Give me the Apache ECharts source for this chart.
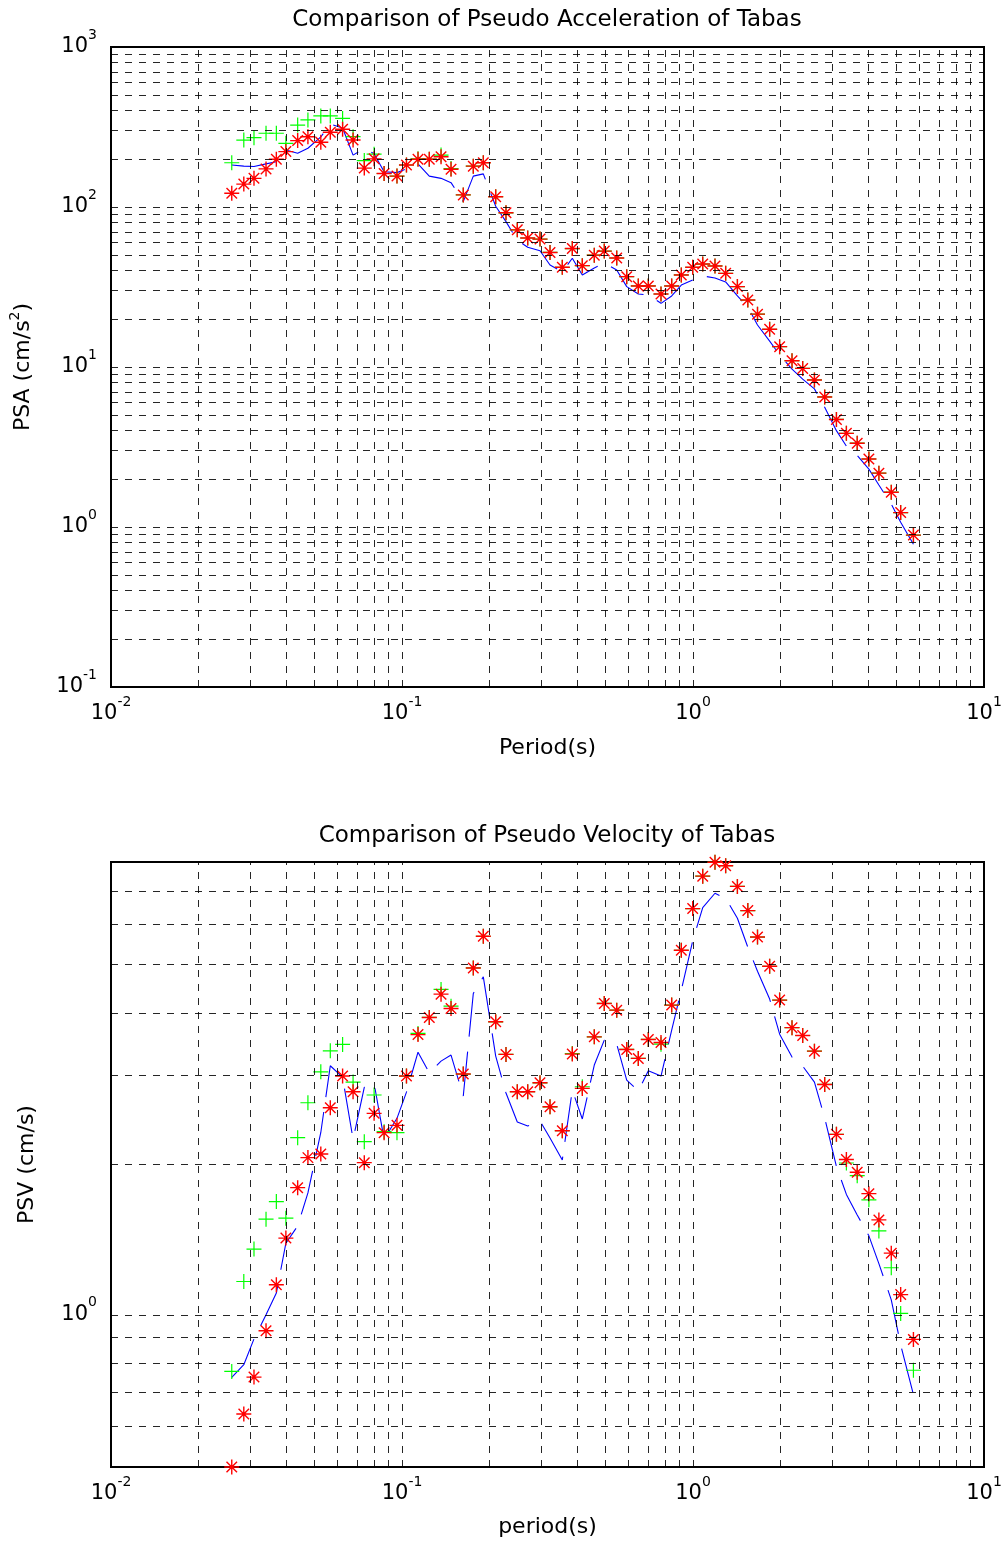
<!DOCTYPE html>
<html>
<head>
<meta charset="utf-8">
<style>
  html, body { margin: 0; padding: 0; background: #fff; }
  #chart { width: 1006px; height: 1545px; }
</style>
<script src="https://cdn.jsdelivr.net/npm/echarts@6.0.0/dist/echarts.min.js"></script>
</head>
<body>
<div id="chart"></div>
<script>
// periods (s) shared by every series
const periods = [
  0.0260, 0.0286, 0.0310, 0.0341, 0.0370, 0.0399, 0.0438, 0.0475, 0.0526, 0.0567,
  0.0625, 0.0679, 0.0742, 0.0802, 0.0868, 0.0961, 0.1036, 0.1135, 0.1241, 0.1362,
  0.1474, 0.1624, 0.1758, 0.1903, 0.2099, 0.2277, 0.2490, 0.2704, 0.2980, 0.3226,
  0.3555, 0.3848, 0.4165, 0.4579, 0.4956, 0.5469, 0.5919, 0.6487, 0.7022, 0.7763,
  0.8448, 0.9116, 0.9976, 1.080, 1.190, 1.295, 1.421, 1.543, 1.666, 1.834,
  1.985, 2.189, 2.382, 2.614, 2.835, 3.111, 3.366, 3.667, 4.022, 4.353,
  4.801, 5.172, 5.721
]

// pseudo acceleration (cm/s^2)
const psaGreen = [
  189, 262, 271, 289, 289, 250, 325, 350, 371, 371,
  358, 275, 195, 214, 162, 156, 183, 200, 199, 211,
  174, 119, 180, 189, 116, 92, 72, 64, 63, 52,
  42, 55, 43, 50, 53, 48, 36.7, 32.1, 32.1, 28.6,
  32.1, 37.6, 42, 44, 42.8, 38.5, 31.8, 26.2, 21.4, 17.2,
  13.4, 10.95, 9.8, 8.3, 6.5, 4.7, 3.85, 3.34, 2.66, 2.17,
  1.65, 1.23, 0.89
]
const psaRed = [
  122, 139, 151, 173, 199, 222, 260, 275, 254, 293,
  306, 262, 175, 200, 162, 156, 183, 199, 199, 206,
  172, 119, 180, 189, 116, 92, 72, 64, 63, 52,
  42, 55, 43, 50, 53, 48, 36.7, 32.1, 32.1, 28.6,
  32.1, 37.6, 42, 44, 42.8, 38.5, 31.8, 26.2, 21.4, 17.2,
  13.4, 10.95, 9.8, 8.3, 6.5, 4.7, 3.85, 3.34, 2.66, 2.17,
  1.65, 1.23, 0.89
]
const psaBlue = [
  183, 180, 179, 186, 192, 227, 217, 233, 274, 330,
  312, 211, 232, 215, 166, 164, 173, 186, 156, 151,
  142, 108, 156, 161, 101, 81, 62, 56, 53.3, 43.4,
  39.3, 47.8, 37.6, 41.6, 44.7, 40.4, 31.8, 28.6, 28.2, 25.0,
  27.8, 32.5, 35.0, 37.1, 36.0, 34.0, 27.8, 23.7, 18.3, 14.5,
  11.9, 9.7, 8.4, 7.3, 5.6, 4.0, 3.2, 2.8, 2.3, 1.83,
  1.39, 1.07, 0.78
]

// pseudo velocity (cm/s)
const psvGreen = [
  0.771, 1.165, 1.352, 1.551, 1.682, 1.558, 2.255, 2.648, 3.052, 3.361,
  3.461, 2.911, 2.214, 2.744, 2.318, 2.308, 2.993, 3.641, 3.918, 4.456,
  4.126, 3.021, 4.918, 5.689, 3.840, 3.306, 2.785, 2.785, 2.902, 2.599,
  2.329, 3.32, 2.85, 3.584, 4.178, 4.051, 3.382, 3.246, 3.541, 3.465,
  4.146, 5.334, 6.459, 7.497, 7.99, 7.866, 7.152, 6.400, 5.668, 4.955,
  4.243, 3.738, 3.606, 3.356, 2.880, 2.290, 2.008, 1.894, 1.695, 1.470,
  1.241, 1.006, 0.775
]
const psvRed = [
  0.497, 0.634, 0.751, 0.929, 1.148, 1.422, 1.793, 2.058, 2.093, 2.588,
  2.993, 2.785, 2.011, 2.522, 2.308, 2.387, 2.993, 3.621, 3.918, 4.360,
  4.083, 3.021, 4.918, 5.689, 3.840, 3.306, 2.785, 2.785, 2.902, 2.599,
  2.329, 3.311, 2.828, 3.584, 4.178, 4.051, 3.382, 3.246, 3.541, 3.493,
  4.146, 5.334, 6.459, 7.497, 7.99, 7.866, 7.152, 6.400, 5.668, 4.955,
  4.243, 3.738, 3.606, 3.356, 2.880, 2.290, 2.040, 1.924, 1.744, 1.546,
  1.327, 1.097, 0.893
]
const psvBlue = [
  0.750, 0.795, 0.895, 1.00, 1.105, 1.389, 1.504, 1.75, 2.31, 3.138,
  2.975, 2.239, 2.842, 2.894, 2.239, 2.465, 2.78, 3.34, 3.038, 3.206,
  3.296, 2.731, 4.374, 4.720, 3.281, 2.769, 2.424, 2.380, 2.435, 2.252,
  2.036, 2.807, 2.458, 3.148, 3.53, 3.466, 2.939, 2.794, 3.066, 2.993,
  3.696, 4.441, 5.57, 6.49, 6.93, 6.77, 6.18, 5.41, 4.845, 4.263,
  3.628, 3.266, 3.133, 2.911, 2.469, 1.976, 1.738, 1.582, 1.437, 1.265,
  1.071, 0.871, 0.693
]

// grid line positions
const minorSteps = [1, 2, 3, 4, 5, 6, 7, 8, 9]
const periodDecades = [0.01, 0.1, 1]
const psaDecades = [0.1, 1, 10, 100]
const psvLines = [0.6, 0.7, 0.8, 0.9, 1, 2, 3, 4, 5, 6, 7]

const FONT = 'DejaVu Sans'
const PLUS = 'path://M0,10L20,10M10,0L10,20'
const STAR = 'path://M0,10L20,10M10,0L10,20M3,3L17,17M17,3L3,17'

function pairs(ys) {
  return periods.map((t, i) => [t, ys[i]])
}

function decadeLines(decades, lo, hi) {
  const out = []
  decades.forEach(d => minorSteps.forEach(m => {
    const v = d * m
    if (v > lo * 1.0001 && v < hi * 0.9999) out.push(v)
  }))
  return out
}

function powLabel(v) {
  const e = Math.log10(v)
  const r = Math.round(e)
  if (Math.abs(e - r) > 1e-6) return ''
  return '{b|10}{s|' + r + '}'
}

const labelRich = {
  b: { fontFamily: FONT, fontSize: 21, color: '#000', verticalAlign: 'middle' },
  s: { fontFamily: FONT, fontSize: 14, color: '#000', verticalAlign: 'middle', padding: [0, 0, 24, 0] }
}

function xAxisFor(i, name, nameGap) {
  return {
    type: 'log', logBase: 10, gridIndex: i, min: 0.01, max: 10,
    axisLine: { show: false }, axisTick: { show: false }, splitLine: { show: false },
    axisLabel: {
      formatter: powLabel, rich: labelRich, margin: 8,
      showMinLabel: true, showMaxLabel: true, hideOverlap: false
    },
    name: name, nameLocation: 'middle', nameGap: nameGap,
    nameTextStyle: { fontFamily: FONT, fontSize: 22, color: '#000' }
  }
}

function yAxisFor(i, min, max, name) {
  return {
    type: 'log', logBase: 10, gridIndex: i, min: min, max: max,
    axisLine: { show: false }, axisTick: { show: false }, splitLine: { show: false },
    axisLabel: {
      formatter: powLabel, rich: labelRich, margin: 14,
      showMinLabel: true, showMaxLabel: true, hideOverlap: false
    },
    name: name, nameLocation: 'middle', nameGap: 73, nameRotate: 90,
    nameTextStyle: {
      fontFamily: FONT, fontSize: 22, color: '#000',
      rich: {
        n: { fontFamily: FONT, fontSize: 22, color: '#000', verticalAlign: 'middle' },
        s: { fontFamily: FONT, fontSize: 14, color: '#000', verticalAlign: 'middle', padding: [0, 0, 16, 0] }
      }
    }
  }
}

function gridSeries(i, xs, ys) {
  return {
    type: 'line', xAxisIndex: i, yAxisIndex: i, data: [], silent: true, z: 1,
    markLine: {
      silent: true, symbol: ['none', 'none'], animation: false,
      label: { show: false },
      lineStyle: { color: '#000', width: 1, type: [7, 7], opacity: 0.85 },
      emphasis: { disabled: true },
      data: xs.map(v => ({ xAxis: v })).concat(ys.map(v => ({ yAxis: v })))
    }
  }
}

function dots(i, ys, symbol, color, z, width) {
  return {
    type: 'scatter', xAxisIndex: i, yAxisIndex: i, data: pairs(ys),
    symbol: symbol, symbolSize: 15, clip: false, silent: true, z: z,
    itemStyle: { color: 'rgba(0,0,0,0)', borderColor: color, borderWidth: width, opacity: 1 }
  }
}

function curve(i, ys) {
  return {
    type: 'line', xAxisIndex: i, yAxisIndex: i, data: pairs(ys),
    showSymbol: false, symbol: 'none', silent: true, z: 2,
    lineStyle: { color: '#0000ff', width: 1.1, type: [45, 15] }
  }
}

const periodLines = decadeLines(periodDecades, 0.01, 10)
const psaLines = decadeLines(psaDecades, 0.1, 1000)

const titleStyle = { fontFamily: FONT, fontSize: 23, fontWeight: 'normal', color: '#000' }

const chart = echarts.init(document.getElementById('chart'), null, { renderer: 'canvas' })
chart.setOption({
  animation: false,
  backgroundColor: '#fff',
  title: [
    { text: 'Comparison of Pseudo Acceleration of Tabas', left: 547, top: 9, padding: 0, textAlign: 'center', textStyle: titleStyle },
    { text: 'Comparison of Pseudo Velocity of Tabas', left: 547, top: 825, padding: 0, textAlign: 'center', textStyle: titleStyle }
  ],
  grid: [
    { left: 111, top: 47, width: 873, height: 640, containLabel: false, outerBoundsMode: 'none',
      show: true, borderColor: '#000', borderWidth: 2, backgroundColor: '#fff' },
    { left: 111, top: 862, width: 873, height: 605, containLabel: false, outerBoundsMode: 'none',
      show: true, borderColor: '#000', borderWidth: 2, backgroundColor: '#fff' }
  ],
  xAxis: [
    xAxisFor(0, 'Period(s)', 50),
    xAxisFor(1, 'period(s)', 49)
  ],
  yAxis: [
    yAxisFor(0, 0.1, 1000, '{n|PSA (cm/s}{s|2}{n|)}'),
    yAxisFor(1, 0.497, 8.0, 'PSV (cm/s)')
  ],
  series: [
    gridSeries(0, periodLines, psaLines),
    gridSeries(1, periodLines, psvLines),
    curve(0, psaBlue),
    dots(0, psaGreen, PLUS, '#00ff00', 3, 1.2),
    dots(0, psaRed, STAR, '#ff0000', 4, 1.4),
    curve(1, psvBlue),
    dots(1, psvGreen, PLUS, '#00ff00', 3, 1.2),
    dots(1, psvRed, STAR, '#ff0000', 4, 1.4)
  ]
})
</script>
</body>
</html>
